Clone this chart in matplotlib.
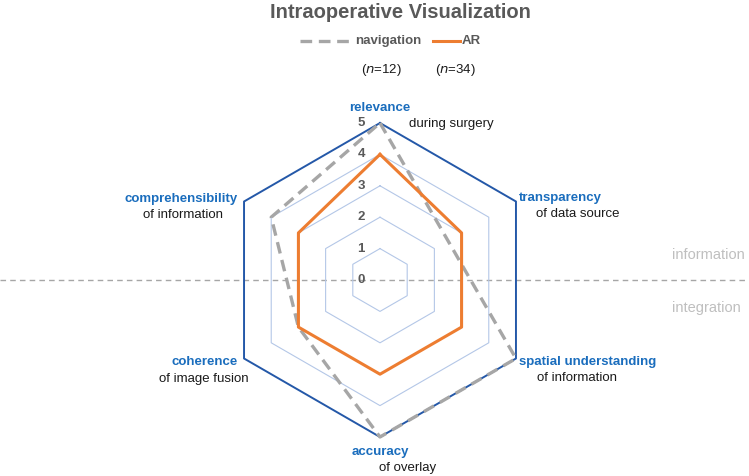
import numpy as np
import matplotlib
matplotlib.use('Agg')
import matplotlib.pyplot as plt

# data
categories = ['relevance', 'transparency', 'spatial understanding',
              'accuracy', 'coherence', 'comprehensibility']
subtitles = ['during surgery', 'of data source', 'of information',
             'of overlay', 'of image fusion', 'of information']
navigation = [5, 2.5, 5, 5, 3, 4]
ar = [4, 3, 3, 3, 3, 3]
ticks = [0, 1, 2, 3, 4, 5]
n_nav = 12
n_ar = 34

plt.rcParams['font.family'] = ['Liberation Sans', 'DejaVu Sans']

W, H = 749, 476
fig = plt.figure(figsize=(W / 100, H / 100), dpi=100)
ax = fig.add_axes([0, 0, 1, 1])
ax.set_axis_off()

# pixel geometry: center at (380, 280), 31.4 px per unit
cx, cy, unit = 380, 280, 31.4
ax.set_xlim(-cx / unit, (W - cx) / unit)
ax.set_ylim(-(H - cy) / unit, cy / unit)

ang = np.deg2rad(90 - 60 * np.arange(len(categories)))


def xy(vals):
    v = np.asarray(vals, dtype=float)
    v = np.append(v, v[0])
    a = np.append(ang, ang[0])
    return v * np.cos(a), v * np.sin(a)


# grid rings
for t in ticks[1:-1]:
    x, y = xy([t] * 6)
    ax.plot(x, y, color='#b4c7e7', lw=0.8, zorder=1)
x, y = xy([ticks[-1]] * 6)
ax.plot(x, y, color='#2458a8', lw=1.4, zorder=2)

# horizontal separator
ax.axhline(0, color='#a6a6a6', lw=1, ls=(0, (4, 3)), zorder=0.5)

# series
x, y = xy(navigation)
ax.plot(x, y, color='#a6a6a6', lw=2.4, ls=(0, (3.5, 2)), zorder=4)
x, y = xy(ar)
ax.plot(x, y, color='#ed7d31', lw=2.2, zorder=5)

# tick labels
for t in ticks:
    ax.text(-0.6, t, str(t), ha='center', va='center', fontsize=9.5,
            fontweight='bold', color='#595959', zorder=6)


def ft(px, py, s, **kw):
    fig.text(px / W, 1 - py / H, s, **kw)


blue = '#1a6dbd'
lab = dict(fontsize=9.5, fontweight='bold', color=blue, va='center')
sub = dict(fontsize=9.5, color='#1a1a1a', va='center')

# category labels
ft(380, 108, categories[0], ha='center', **lab)
ft(451, 124, subtitles[0], ha='center', **sub)
ft(519, 198, categories[1], ha='left', **lab)
ft(578, 214, subtitles[1], ha='center', **sub)
ft(519, 362, categories[2], ha='left', **lab)
ft(577, 378, subtitles[2], ha='center', **sub)
ft(380, 452, categories[3], ha='center', **lab)
ft(408, 468, subtitles[3], ha='center', **sub)
ft(238, 362, categories[4], ha='right', **lab)
ft(204, 379, subtitles[4], ha='center', **sub)
ft(238, 199, categories[5], ha='right', **lab)
ft(183, 215, subtitles[5], ha='center', **sub)

ft(708, 255, 'information', ha='center', va='center', fontsize=10.5, color='#bfbfbf')
ft(706, 308, 'integration', ha='center', va='center', fontsize=10.5, color='#bfbfbf')

# title and legend
ft(400, 13, 'Intraoperative Visualization', ha='center', va='center',
   fontsize=14.5, fontweight='bold', color='#595959')
fig.add_artist(plt.Line2D([300 / W, 352 / W], [1 - 41 / H] * 2, color='#a6a6a6',
                          lw=2.4, ls=(0, (3.5, 2)), transform=fig.transFigure))
ft(355, 41, 'navigation', ha='left', va='center', fontsize=9.5,
   fontweight='bold', color='#595959')
fig.add_artist(plt.Line2D([433 / W, 460 / W], [1 - 41 / H] * 2, color='#ed7d31',
                          lw=2.2, transform=fig.transFigure))
ft(462, 41, 'AR', ha='left', va='center', fontsize=9.5,
   fontweight='bold', color='#595959')
ft(381, 70, '($n$=%d)' % n_nav, ha='center', va='center', fontsize=9.5, color='#1a1a1a')
ft(455, 70, '($n$=%d)' % n_ar, ha='center', va='center', fontsize=9.5, color='#1a1a1a')

fig.savefig('out.png', dpi=100)
